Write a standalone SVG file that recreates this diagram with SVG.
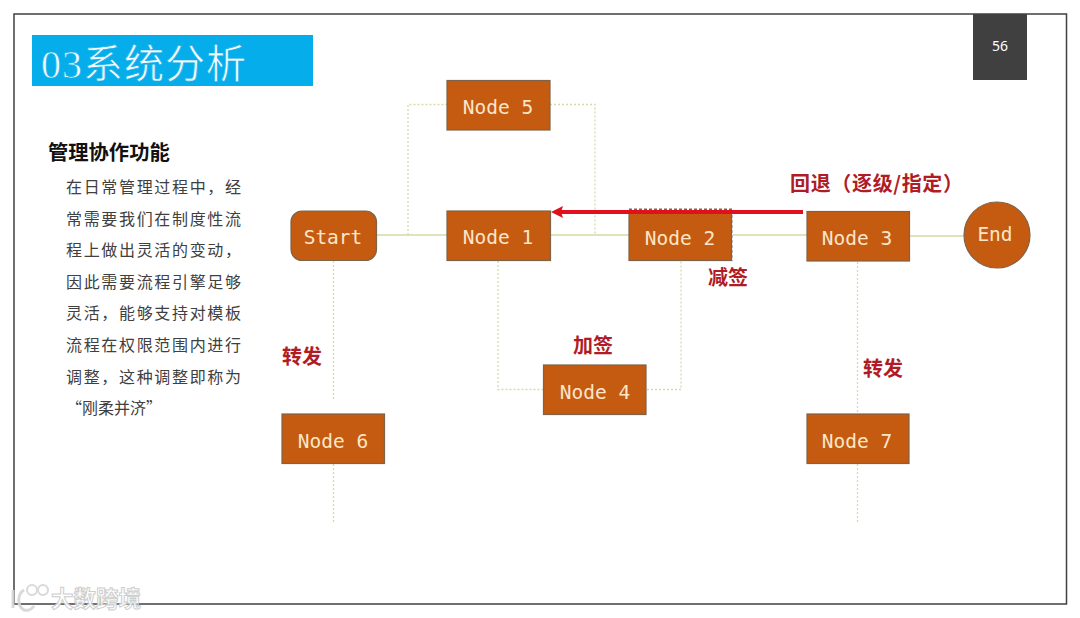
<svg xmlns="http://www.w3.org/2000/svg" width="1080" height="618" viewBox="0 0 1080 618">
<style>
.n{fill:#c55a11;stroke:#7f6248;stroke-width:1.2}
.nt{font-family:"DejaVu Sans Mono","Liberation Mono",monospace;font-size:19.500px;fill:#fbe6c8;text-anchor:middle}
.c{fill:none;stroke:#d0dda6;stroke-width:1.300}
.d{stroke-dasharray:2 2}
.r{font-family:"Noto Sans CJK SC",sans-serif;font-weight:700;font-size:20px;fill:#b01c26}
.b{font-family:"Noto Sans CJK SC",serif;font-size:16px;fill:#404040}
</style>
<rect width="1080" height="618" fill="#fff"/>
<rect x="14" y="14" width="1052.500" height="590" fill="#fff" stroke="#404040" stroke-width="1.500"/>
<g id="title"><rect x="32" y="35" width="281" height="51" fill="#05aeea"/>
<text x="41" y="78" font-family="'Liberation Serif','Noto Sans CJK SC',sans-serif" font-size="40" fill="#f2fbff" stroke="#05aeea" stroke-width="0.700" textLength="205" lengthAdjust="spacing">03系统分析</text></g>
<g id="page"><rect x="973" y="14" width="54" height="66" fill="#404040"/>
<text x="1000" y="51" font-family="'Noto Sans',sans-serif" font-size="14" fill="#fff" text-anchor="middle">56</text></g>
<g id="description">
<text x="48" y="160" font-family="'Noto Sans CJK SC',sans-serif" font-weight="700" font-size="20.300" fill="#111">管理协作功能</text>
<text class="b" x="66" y="193" textLength="175">在日常管理过程中，经</text>
<text class="b" x="66" y="225" textLength="175">常需要我们在制度性流</text>
<text class="b" x="66" y="256" textLength="175">程上做出灵活的变动，</text>
<text class="b" x="66" y="288" textLength="175">因此需要流程引擎足够</text>
<text class="b" x="66" y="319" textLength="175">灵活，能够支持对模板</text>
<text class="b" x="66" y="351" textLength="175">流程在权限范围内进行</text>
<text class="b" x="66" y="383" textLength="175">调整，这种调整即称为</text>
<text class="b" x="66" y="414">“刚柔并济”</text>
</g>
<g id="connectors">
<path class="c" d="M377 235H447M551 235H629M733 235H807M910 236H964"/>
<path class="c d" d="M408 235V104.500H447M550 104.500H595V235"/>
<path class="c d" d="M498 261V389.500H543M647 389.500H681V261"/>
<path class="c d" d="M333.500 261V400M333.500 464V523"/>
<path class="c d" d="M857.500 262V414M857.500 464V523"/>
<path d="M731.500 210V261" fill="none" stroke="#5a6a78" stroke-width="1.800" stroke-dasharray="3 2"/>
<path d="M629 209.500H732" fill="none" stroke="#7f6248" stroke-width="1.800" stroke-dasharray="3 2"/>
</g>
<g id="start"><rect class="n" x="291" y="211" width="85.500" height="49.500" rx="11"/><text class="nt" x="333" y="244">Start</text></g>
<g id="node1"><rect class="n" x="447" y="211" width="103.500" height="49.500"/><text class="nt" x="498" y="244">Node 1</text></g>
<g id="node2"><rect class="n" x="629" y="211" width="102.500" height="49.500"/><text class="nt" x="680" y="245">Node 2</text></g>
<g id="node3"><rect class="n" x="807" y="211.500" width="102.500" height="49.500"/><text class="nt" x="857" y="245">Node 3</text></g>
<g id="node4"><rect class="n" x="543.500" y="365" width="102.500" height="49.500"/><text class="nt" x="595" y="399">Node 4</text></g>
<g id="node5"><rect class="n" x="447" y="80.500" width="103" height="49.500"/><text class="nt" x="498" y="114">Node 5</text></g>
<g id="node6"><rect class="n" x="282" y="414" width="102.500" height="49.500"/><text class="nt" x="333" y="448">Node 6</text></g>
<g id="node7"><rect class="n" x="807" y="414" width="102" height="49.500"/><text class="nt" x="857" y="448">Node 7</text></g>
<g id="end"><circle class="n" cx="997" cy="235" r="33"/><text class="nt" x="995" y="241">End</text></g>
<g id="rollback"><path d="M803 212H561" stroke="#e0101c" stroke-width="4" fill="none"/><path d="M551 212L563 206L561 212L563 218Z" fill="#e0101c"/></g>
<g id="labels">
<text class="r" x="790" y="191" textLength="173">回退（逐级/指定）</text>
<text class="r" x="708" y="285">减签</text>
<text class="r" x="573" y="353">加签</text>
<text class="r" x="282" y="364">转发</text>
<text class="r" x="863" y="376">转发</text>
</g>
<g id="watermark" opacity="0.9">
<text x="51" y="607" font-family="'Noto Sans CJK SC',sans-serif" font-weight="700" font-size="22.500" fill="#fff" stroke="#c8c8c8" stroke-width="1">大数跨境</text>
<path d="M13 590V608M24 590C17 594 17 606 24 610C28 611 32 609 34 606" fill="none" stroke="#d5d5d5" stroke-width="3"/>
<circle cx="32" cy="590" r="5" fill="#fff" stroke="#d5d5d5" stroke-width="2"/><circle cx="43" cy="590" r="5" fill="#fff" stroke="#d5d5d5" stroke-width="2"/>
</g>
</svg>
